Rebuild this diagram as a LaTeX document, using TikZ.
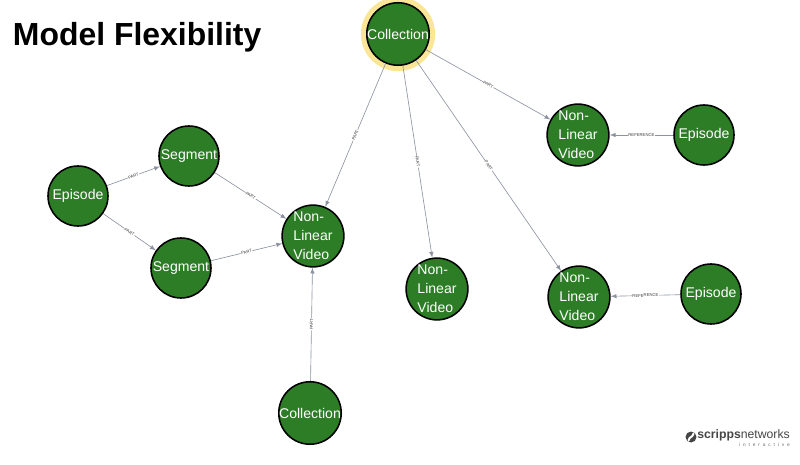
\documentclass[tikz,border=0pt]{standalone}
\usepackage{fontspec}
\setmainfont{Liberation Sans}
\usetikzlibrary{positioning,shapes,arrows}
\definecolor{nodegreen}{RGB}{44,125,38}
\definecolor{edgegray}{RGB}{140,146,160}
\definecolor{halo}{RGB}{250,230,150}
\definecolor{logogray}{RGB}{70,70,70}

\begin{document}
\begin{tikzpicture}[
	x=0.025cm, y=-0.025cm,
	mynode/.style={draw=black,line width=1.1pt,circle,fill=nodegreen,text=white,
		minimum size=1.5cm,inner sep=0pt,align=left,font=\fontsize{10}{13.5}\selectfont},
	rel/.style={font=\fontsize{3}{3}\selectfont,text=black!75,fill=white,inner sep=0.4pt,sloped,midway},
	every edge/.style={draw=edgegray,line width=0.45pt}
	]
	\useasboundingbox (0,0) rectangle (800,465);
	\node[anchor=west,font=\bfseries\fontsize{22.7}{24}\selectfont] (title) at (8,37) {Model Flexibility};

	\node[mynode,draw=halo,line width=5pt,minimum size=1.68cm] (halo) at (398,34) {};
	\node[mynode] (collectiontop) at (398,34) {Collection};
	\node[mynode] (nlvtopright) at (578,135) {Non-\\Linear\\Video};
	\node[mynode] (episodetop) at (704,135) {Episode};
	\node[mynode] (segmentone) at (189,156) {Segment};
	\node[mynode] (episodeleft) at (78,196) {Episode};
	\node[mynode] (segmenttwo) at (181,268) {Segment};
	\node[mynode] (nlvmid) at (313,236) {Non-\\Linear\\Video};
	\node[mynode] (nlvcenter) at (437,289) {Non-\\Linear\\Video};
	\node[mynode] (nlvlowright) at (579,297) {Non-\\Linear\\Video};
	\node[mynode] (episodelow) at (711,294) {Episode};
	\node[mynode] (collectionbottom) at (310,413) {Collection};

	\path [-latex]
	(collectiontop) edge node[rel] {PART} (nlvtopright)
	(collectiontop) edge node[rel] {PART} (nlvmid)
	(collectiontop) edge node[rel] {PART} (nlvcenter)
	(collectiontop) edge node[rel] {PART} (nlvlowright)
	(episodetop) edge node[rel] {REFERENCE} (nlvtopright)
	(episodelow) edge node[rel] {REFERENCE} (nlvlowright)
	(episodeleft) edge node[rel] {PART} (segmentone)
	(episodeleft) edge node[rel] {PART} (segmenttwo)
	(segmentone) edge node[rel] {PART} (nlvmid)
	(segmenttwo) edge node[rel] {PART} (nlvmid)
	(collectionbottom) edge node[rel] {PART} (nlvmid);

	% logo
	\fill[logogray] (691,437) circle (5.5);
	\draw[white,line width=1.4pt,line cap=round] (688.5,440.5) .. controls (689.5,436) and (692.5,438) .. (693.5,433.5);
	\node[anchor=west,text=logogray,inner sep=0pt,font=\fontsize{8.7}{9}\selectfont] (logo) at (697,435.5)
		{\textbf{scripps}networks};
	\node[anchor=north east,text=logogray!80,inner sep=0pt,font=\fontsize{3.4}{4}\selectfont\addfontfeatures{LetterSpace=60}]
		at ([yshift=-1pt]logo.south east) {interactive};
\end{tikzpicture}
\end{document}
